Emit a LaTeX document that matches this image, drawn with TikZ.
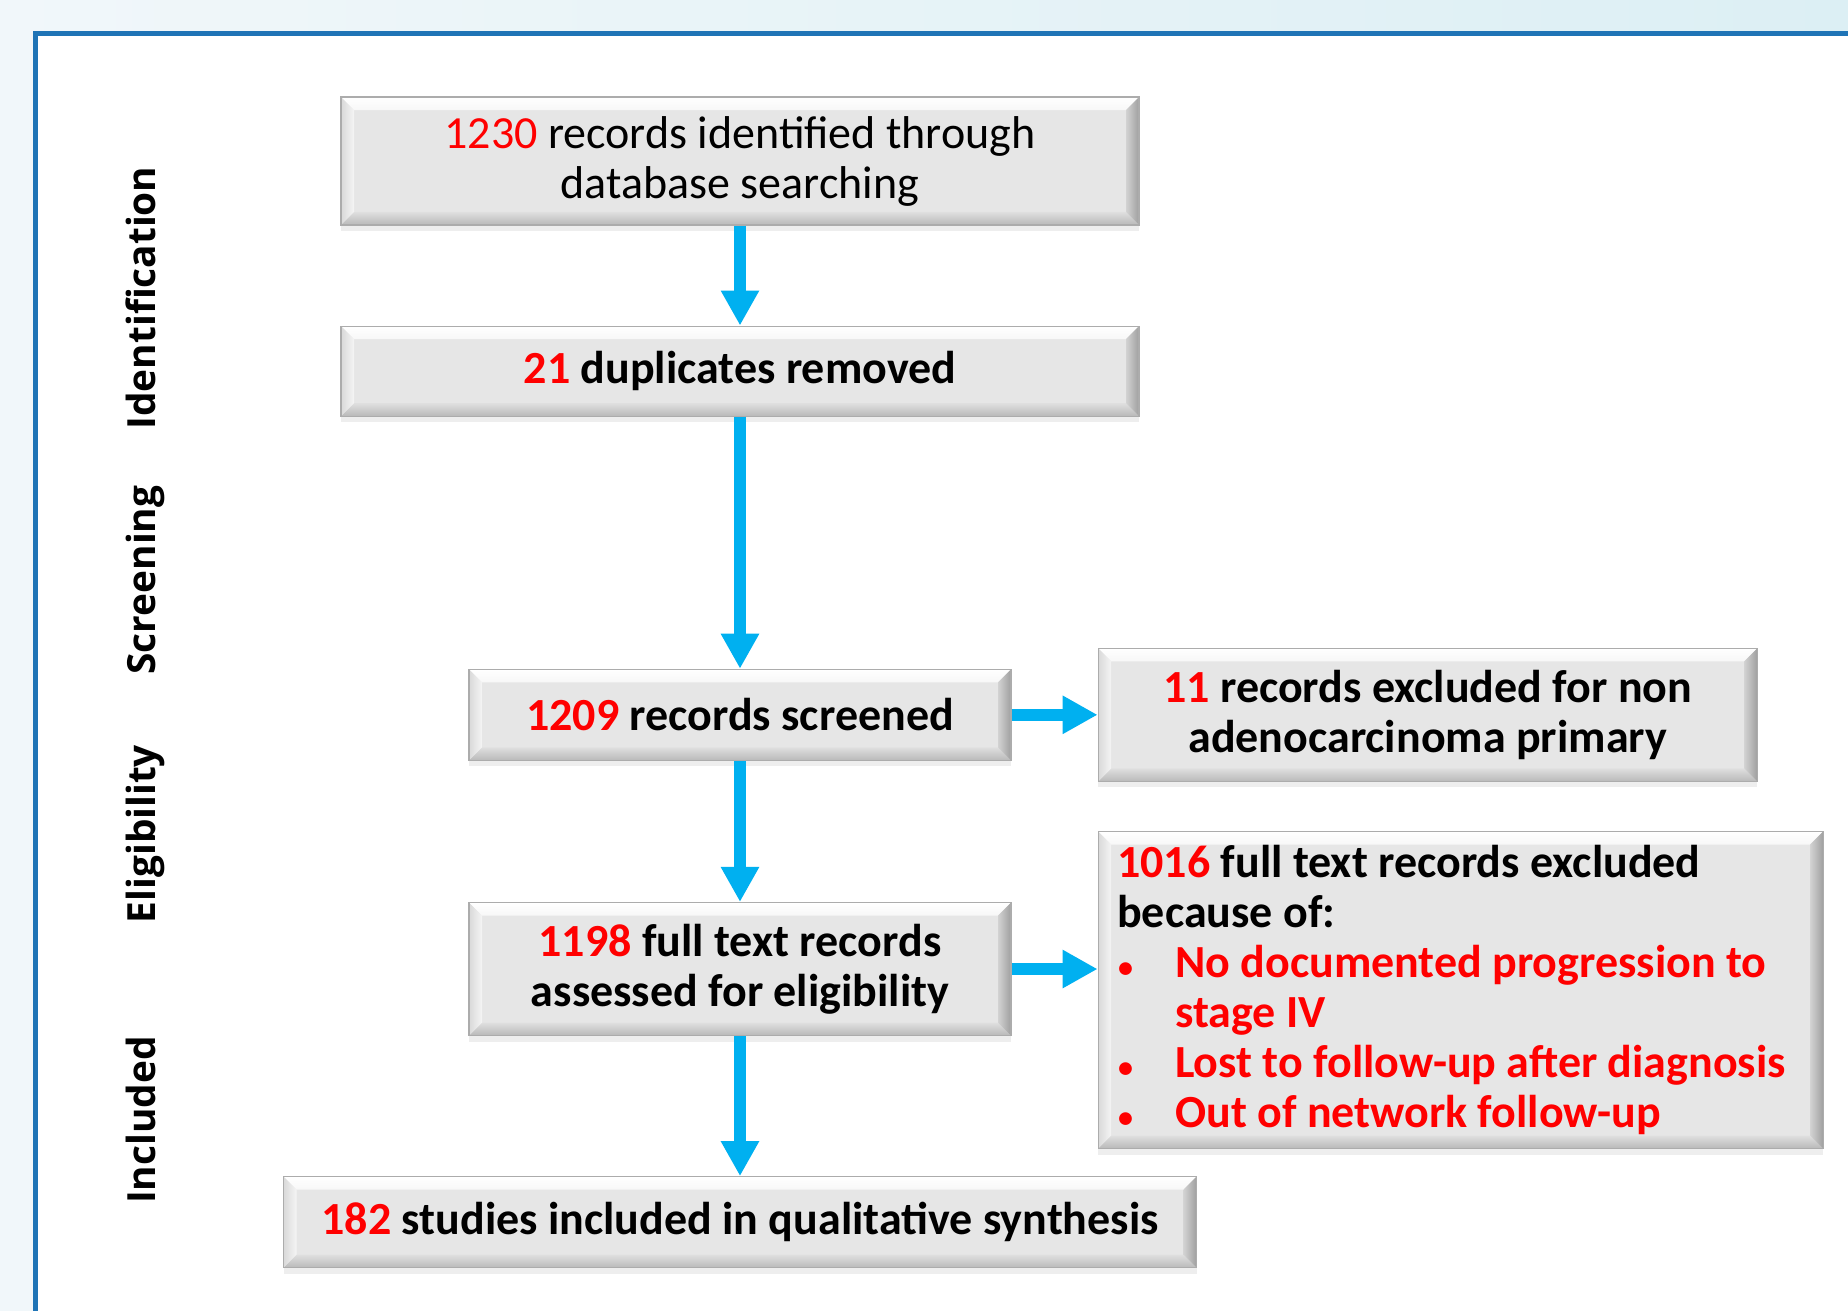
\documentclass[tikz,border=0pt]{standalone}
\usepackage{fontspec}
\setmainfont{Carlito}
\newfontfamily\sidefont{Open Sans}
\usetikzlibrary{shapes.geometric, arrows.meta, calc, positioning, shadows}

\definecolor{arrowblue}{HTML}{00B0F0}
\definecolor{framecol}{HTML}{1F74B6}
\definecolor{boxface}{HTML}{E6E6E6}
\definecolor{bgleft}{HTML}{F1F7FA}
\definecolor{bgright}{HTML}{DCEFF4}

\tikzstyle{bevelled} = [path picture={
  \path (path picture bounding box.south west) coordinate (bsw)
        (path picture bounding box.north east) coordinate (bne)
        (bsw|-bne) coordinate (bnw) (bsw-|bne) coordinate (bse);
  \shade[top color=white, bottom color=gray!6] (bnw) -- (bne) -- ($(bne)+(-6.5pt,-6.5pt)$) -- ($(bnw)+(6.5pt,-6.5pt)$) -- cycle;
  \shade[top color=gray!25, bottom color=gray!55] (bsw) -- (bse) -- ($(bse)+(-6.5pt,6.5pt)$) -- ($(bsw)+(6.5pt,6.5pt)$) -- cycle;
  \shade[left color=gray!30, right color=gray!8] (bsw) -- (bnw) -- ($(bnw)+(6.5pt,-6.5pt)$) -- ($(bsw)+(6.5pt,6.5pt)$) -- cycle;
  \shade[left color=gray!35, right color=gray!75] (bse) -- (bne) -- ($(bne)+(-6.5pt,-6.5pt)$) -- ($(bse)+(-6.5pt,6.5pt)$) -- cycle;
}]
\tikzstyle{stagebox} = [rectangle, draw=gray!65, line width=0.6pt, fill=boxface, bevelled,
  drop shadow={shadow xshift=0pt, shadow yshift=-3pt, opacity=0.13}, align=center, inner sep=9.5pt,
  font=\fontsize{23}{25}\selectfont\bfseries]
\tikzstyle{phase} = [rotate=90, anchor=base, font=\fontsize{19.4}{24}\sidefont\bfseries]
\tikzstyle{flowarrow} = [line width=6pt, draw=arrowblue, -{Triangle[width=18pt,length=17.5pt]}]

\newcommand{\reason}[1]{\mbox{\textcolor{red}{\makebox[29pt][l]{\hspace{0.5pt}{\fontsize{15}{15}\selectfont\textbullet}}#1}}}

\begin{document}
\begin{tikzpicture}
  \useasboundingbox (0,0) rectangle (924pt,-655.5pt);
  % background and frame
  \shade[left color=bgleft, right color=bgright] (0,0) rectangle (924pt,-655.5pt);
  \fill[white] (17.5pt,-16.75pt) rectangle (924pt,-655.5pt);
  \draw[framecol, line width=2.5pt] (17.5pt,-655.5pt) -- (17.5pt,-16.75pt) -- (924pt,-16.75pt);

  % phases
  \node (lblident) [phase] at (77.5pt,-149pt) {Identification};
  \node (lblscreen) [phase] at (77.5pt,-290pt) {Screening};
  \node (lblelig) [phase] at (77.5pt,-417pt) {Eligibility};
  \node (lblincl) [phase] at (77.5pt,-560pt) {Included};

  % main column
  \node (ident) [stagebox, minimum width=399pt, minimum height=59.5pt, font=\fontsize{23}{25}\selectfont] at (370pt,-80.5pt) {\textcolor{red}{1230} records identified through\\database searching};
  \node (dup) [stagebox, minimum width=399pt, minimum height=45pt, below=50pt of ident] {\textcolor{red}{21} duplicates removed};
  \node (screen) [stagebox, minimum width=271pt, minimum height=45.5pt, below=126pt of dup] {\textcolor{red}{1209} records screened};
  \node (full) [stagebox, minimum width=271pt, minimum height=66.5pt, below=70.5pt of screen] {\textcolor{red}{1198} full text records\\assessed for eligibility};
  \node (incl) [stagebox, minimum width=456.5pt, minimum height=45.5pt, below=70pt of full] {\textcolor{red}{182} studies included in qualitative synthesis};

  % exclusions
  \node (excl1) [stagebox, minimum width=329.5pt, minimum height=66.5pt, right=43pt of screen] {\textcolor{red}{11} records excluded for non\\adenocarcinoma primary};
  \node (excl2) [stagebox, minimum width=362.5pt, minimum height=158.5pt, text width=343.5pt, inner ysep=3pt, align=flush left, below=24.5pt of excl1.south west, anchor=north west] {\mbox{\textcolor{red}{1016} full text records excluded}\\
    because of:\\
    \reason{No documented progression to}\\
    \mbox{\hspace*{29pt}\textcolor{red}{stage IV}}\\
    \reason{Lost to follow-up after diagnosis}\\
    \reason{Out of network follow-up}};

  \draw [flowarrow] (ident) -- (dup);
  \draw [flowarrow] (dup) -- (screen);
  \draw [flowarrow] (screen) -- (full);
  \draw [flowarrow] (full) -- (incl);
  \draw [flowarrow] (screen) -- (excl1);
  \draw [flowarrow] (full.east) -- (full.east -| excl2.west);
\end{tikzpicture}
\end{document}
